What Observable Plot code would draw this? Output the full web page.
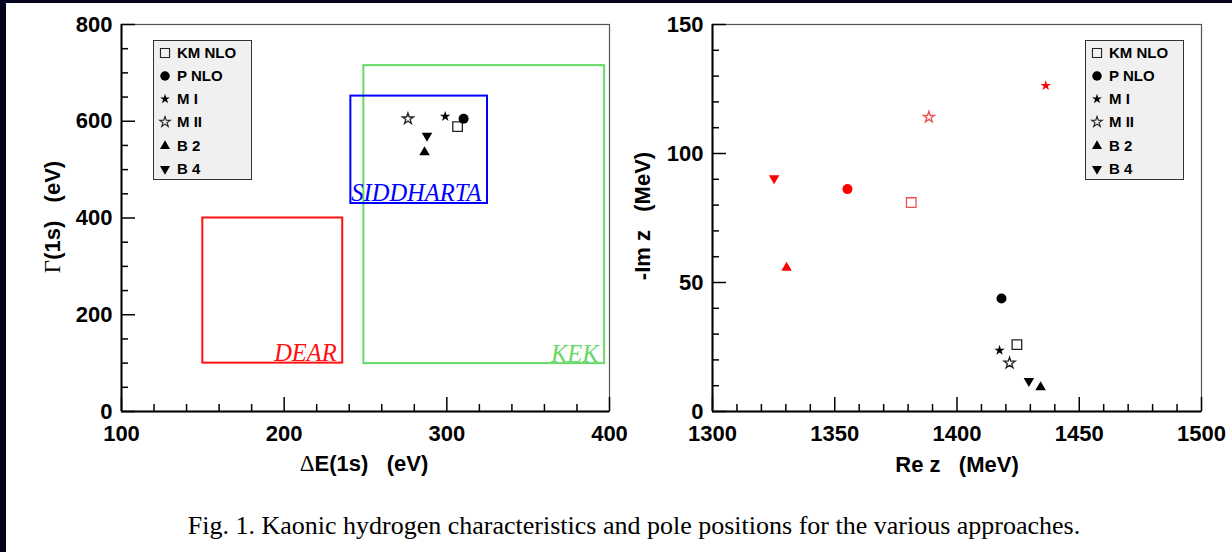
<!DOCTYPE html>
<html>
<head>
<meta charset="utf-8">
<script src="https://cdn.jsdelivr.net/npm/d3@7"></script>
<script src="https://cdn.jsdelivr.net/npm/@observablehq/plot@0.6"></script>
<style>
html,body{margin:0;padding:0;background:#fff;}
body{width:1232px;height:552px;position:relative;overflow:hidden;font-family:"Liberation Sans",Arial,Helvetica,sans-serif;}
#borderL{position:absolute;left:0;top:0;width:6px;height:552px;background:#04041f;}
#borderT{position:absolute;left:0;top:0;width:1232px;height:3px;background:#04041f;}
.panel{position:absolute;top:0;}
.atitle{position:absolute;font-weight:bold;font-size:22px;white-space:pre;color:#000;transform:translate(-50%,-50%);}
.atitle.rot{transform:translate(-50%,-50%) rotate(-90deg);}
.atitle .sym{font-family:"Liberation Serif","Times New Roman",serif;font-weight:normal;font-size:23px;}
.legend{position:absolute;background:#f0f0f0;border:1.5px solid #333;box-sizing:border-box;}
.legend .row{position:absolute;left:0;height:20px;}
.legend .row svg{position:absolute;left:2px;top:0;}
.legend .row span{position:absolute;left:23px;font-weight:bold;font-size:15px;white-space:pre;line-height:20px;top:0;}
#caption{position:absolute;left:18px;width:1232px;text-align:center;font-family:"Liberation Serif","Times New Roman",serif;font-size:26px;color:#000;white-space:pre;}
</style>
</head>
<body>
<div id="borderL"></div><div id="borderT"></div>
<div id="left" class="panel" style="left:0"></div>
<div id="right" class="panel" style="left:616px"></div>
<script>
// ---------------- data ----------------
const models = ["KM NLO", "P NLO", "M I", "M II", "B 2", "B 4"];
// left panel: kaonic hydrogen 1s shift and width (eV)
const deltaE = [306.6, 310.3, 299.0, 276.1, 286.3, 287.8];
const gamma  = [589, 605, 610, 605, 536, 570];
// right panel: pole positions (MeV), pole 1 (black) and pole 2 (red)
const reZ1 = [1424.5, 1418.2, 1417.4, 1421.5, 1434.2, 1429.4];
const imZ1 = [25.9, 43.8, 23.7, 18.8, 9.4, 11.8];
const reZ2 = [1381.3, 1355.2, 1436.3, 1388.5, 1330.3, 1325.2];
const imZ2 = [81.0, 86.2, 126.3, 114.1, 55.7, 90.4];
// experimental boxes
const experiments = ["DEAR", "KEK", "SIDDHARTA"];
const expDeLow  = [150, 249, 241];
const expDeHigh = [236, 397, 325];
const expGammaLow  = [100, 99, 430];
const expGammaHigh = [400, 715, 652];
const expColors = ["#ff1010", "#66d966", "#0000ff"];
// axis ticks
const leftXMajor = [100, 200, 300, 400];
const leftXMinor = [120, 140, 160, 180, 220, 240, 260, 280, 320, 340, 360, 380];
const leftYMajor = [0, 200, 400, 600, 800];
const leftYMinor = [50, 100, 150, 250, 300, 350, 450, 500, 550, 650, 700, 750];
const rightXMajor = [1300, 1350, 1400, 1450, 1500];
const rightXMinor = [1310, 1320, 1330, 1340, 1360, 1370, 1380, 1390, 1410, 1420, 1430, 1440, 1460, 1470, 1480, 1490];
const rightYMajor = [0, 50, 100, 150];
const rightYMinor = [10, 20, 30, 40, 60, 70, 80, 90, 110, 120, 130, 140];

// ---------------- styles ----------------
const triangleDown = {
  draw(ctx, size) {
    const y = Math.sqrt(size / (Math.sqrt(3) * 3));
    ctx.moveTo(0, 2 * y);
    ctx.lineTo(Math.sqrt(3) * y, -y);
    ctx.lineTo(-Math.sqrt(3) * y, -y);
    ctx.closePath();
  }
};
const markerStyle = {
  "KM NLO": {symbol: "square", filled: false, r: 5.4},
  "P NLO":  {symbol: "circle", filled: true,  r: 5},
  "M I":    {symbol: "star",   filled: true,  r: 3.3},
  "M II":   {symbol: "star",   filled: false, r: 3.5},
  "B 2":    {symbol: "triangle", filled: true, r: 3.9},
  "B 4":    {symbol: triangleDown, filled: true, r: 3.9}
};

const leftPts = models.map((m, i) => ({model: m, x: deltaE[i], y: gamma[i], color: "#000"}));
const rightPts = models.map((m, i) => ({model: m, x: reZ1[i], y: imZ1[i], color: "#000"}))
  .concat(models.map((m, i) => ({model: m, x: reZ2[i], y: imZ2[i], color: "#ff0000"})));
const boxes = experiments.map((e, i) => ({name: e, x1: expDeLow[i], x2: expDeHigh[i], y1: expGammaLow[i], y2: expGammaHigh[i], color: expColors[i]}));

function pointMarks(pts) {
  return models.map(m => {
    const s = markerStyle[m];
    const d = pts.filter(p => p.model === m);
    return s.filled
      ? Plot.dot(d, {x: "x", y: "y", symbol: () => s.symbol, r: s.r, fill: d => d.color, stroke: "none"})
      : Plot.dot(d, {x: "x", y: "y", symbol: () => s.symbol, r: s.r, fill: "none", stroke: d => d.color === "#000" ? "#222" : "#f05050", strokeWidth: 1.3});
  });
}

function axes(xMajor, xMinor, yMajor, yMinor, xDomain, yDomain) {
  const f = {fontSize: 22, fontWeight: "bold", fill: "#000", tickFormat: d3.format("d")};
  const blank = () => "";
  return [
    Plot.frame({stroke: "#555", strokeWidth: 1.2}),
    Plot.axisX({ticks: xMinor, tickSize: 7, dy: -7, tickFormat: blank, label: null, strokeWidth: 1.5}),
    Plot.axisX({ticks: xMajor, tickSize: 14, dy: -14, tickFormat: blank, label: null, strokeWidth: 1.5}),
    Plot.axisX({ticks: xMajor, tickSize: 0, tickPadding: 14, label: null, ...f}),
    Plot.axisY({ticks: yMinor, tickSize: 7, dx: 7, tickFormat: blank, label: null, strokeWidth: 1.5}),
    Plot.axisY({ticks: yMajor, tickSize: 14, dx: 14, tickFormat: blank, label: null, strokeWidth: 1.5}),
    Plot.axisY({ticks: yMajor, tickSize: 0, tickPadding: 9, label: null, ...f}),
    Plot.ruleX(xDomain.slice(0, 1), {stroke: "#000", strokeWidth: 2}),
    Plot.ruleY(yDomain.slice(0, 1), {stroke: "#000", strokeWidth: 2})
  ];
}

const common = {
  width: 616, height: 490, marginTop: 24, marginBottom: 79,
  style: {fontFamily: '"Liberation Sans", Arial, Helvetica, sans-serif', fontSize: "20px", background: "transparent", overflow: "visible", color: "#000"}
};

const leftDomX = [100, 400], leftDomY = [0, 800];
const leftPlot = Plot.plot({
  ...common, marginLeft: 121, marginRight: 7,
  x: {domain: leftDomX}, y: {domain: leftDomY},
  marks: [
    ...axes(leftXMajor, leftXMinor, leftYMajor, leftYMinor, leftDomX, leftDomY),
    Plot.rect(boxes, {x1: "x1", x2: "x2", y1: "y1", y2: "y2", fill: "none", stroke: "color", strokeWidth: 2}),
    Plot.text(boxes, {x: "x2", y: "y1", text: "name", fill: "color", textAnchor: "end", lineAnchor: "bottom", dx: -6, dy: -2,
      fontFamily: '"Liberation Serif", "Times New Roman", serif', fontStyle: "italic", fontSize: 24.5}),
    ...pointMarks(leftPts)
  ]
});
document.getElementById("left").append(leftPlot);

const rightDomX = [1300, 1500], rightDomY = [0, 150];
const rightPlot = Plot.plot({
  ...common, marginLeft: 96, marginRight: 31,
  x: {domain: rightDomX}, y: {domain: rightDomY},
  marks: [
    ...axes(rightXMajor, rightXMinor, rightYMajor, rightYMinor, rightDomX, rightDomY),
    ...pointMarks(rightPts)
  ]
});
document.getElementById("right").append(rightPlot);

// ---------------- titles, legends, caption ----------------
function addText(cls, sym, text, x, y) {
  const d = document.createElement("div");
  d.className = cls;
  if (sym) { const s = document.createElement("span"); s.className = "sym"; s.textContent = sym; d.append(s); }
  d.append(document.createTextNode(text));
  d.style.left = x + "px"; d.style.top = y + "px";
  document.body.append(d);
}
addText("atitle rot", "\u0393", "(1s)   (eV)", 53, 217);
addText("atitle", "\u0394", "E(1s)   (eV)", 364, 464);
addText("atitle rot", "", "-Im z   (MeV)", 643, 216);
addText("atitle", "", "Re z   (MeV)", 957, 465);

function addLegend(left, top) {
  const box = document.createElement("div");
  box.className = "legend";
  Object.assign(box.style, {left: left + "px", top: top + "px", width: "99px", height: "140px"});
  models.forEach((m, i) => {
    const s = markerStyle[m];
    const row = document.createElement("div");
    row.className = "row";
    row.style.top = (1.5 + i * 23.3) + "px";
    const sym = typeof s.symbol === "string"
      ? {square: d3.symbolSquare, circle: d3.symbolCircle, star: d3.symbolStar, triangle: d3.symbolTriangle}[s.symbol]
      : s.symbol;
    const size = Math.PI * (s.r * 0.95) ** 2;
    const svg = d3.create("svg").attr("width", 18).attr("height", 20);
    svg.append("path").attr("transform", "translate(9,10)")
      .attr("d", d3.symbol(sym, size)())
      .attr("fill", s.filled ? "#000" : "none")
      .attr("stroke", s.filled ? "none" : "#222").attr("stroke-width", 1.1);
    row.append(svg.node());
    const t = document.createElement("span");
    t.textContent = m;
    row.append(t);
    box.append(row);
  });
  document.body.append(box);
}
addLegend(153, 40);
addLegend(1085, 40);

const cap = document.createElement("div");
cap.id = "caption";
cap.textContent = "Fig. 1. Kaonic hydrogen characteristics and pole positions for the various approaches.";
cap.style.top = "511px";
document.body.append(cap);
</script>
</body>
</html>
